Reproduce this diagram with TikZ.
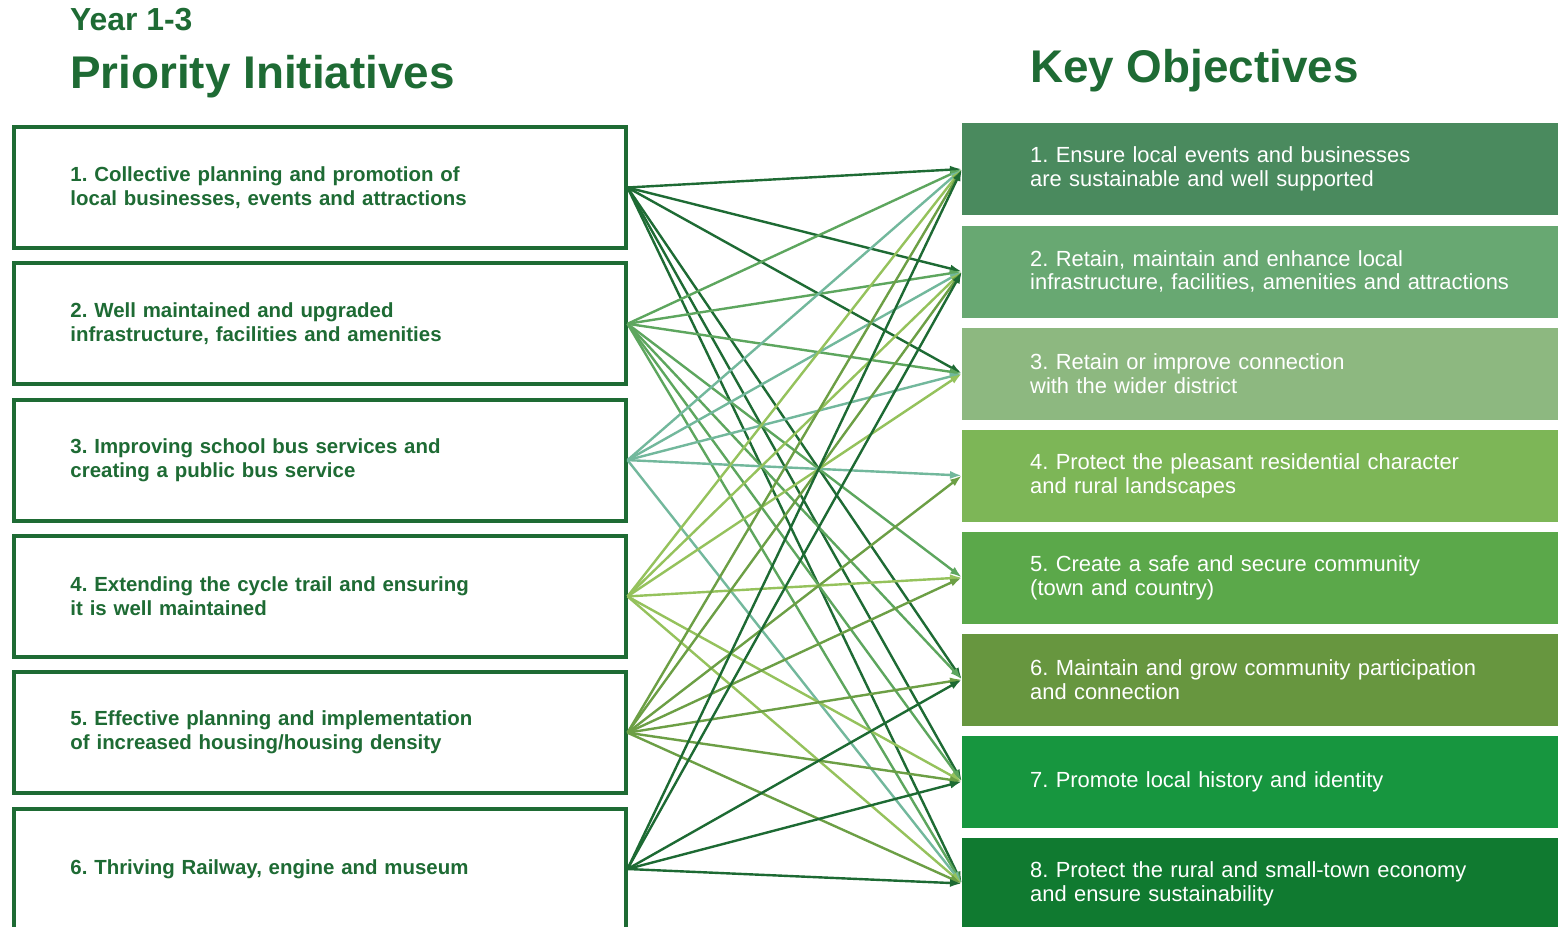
\documentclass[tikz,border=0pt]{standalone}
\usepackage{fontspec}
\setmainfont{Liberation Sans}
\frenchspacing
\usetikzlibrary{arrows.meta}
\definecolor{titlegreen}{HTML}{1E6B34}
\definecolor{objA}{HTML}{4A8A5E}
\definecolor{objB}{HTML}{68A872}
\definecolor{objC}{HTML}{8DB880}
\definecolor{objD}{HTML}{7DB657}
\definecolor{objE}{HTML}{5BA84A}
\definecolor{objF}{HTML}{67963F}
\definecolor{objG}{HTML}{17963F}
\definecolor{objH}{HTML}{107A30}
\definecolor{linkA}{HTML}{1E6B34}
\definecolor{linkB}{HTML}{5DA65E}
\definecolor{linkC}{HTML}{72B89C}
\definecolor{linkD}{HTML}{95C25C}
\definecolor{linkE}{HTML}{6C9F45}
\definecolor{linkF}{HTML}{1D6A33}
\tikzset{
  initbox/.style={draw=titlegreen, line width=4bp, minimum height=121bp,
    text width=499bp, inner xsep=56bp, align=left, text=titlegreen,
    font=\fontsize{20.5}{24}\selectfont\bfseries},
  objbox/.style={anchor=west, minimum height=92bp, text width=530bp,
    inner xsep=68bp, align=left, text=white,
    font=\fontsize{22}{24}\selectfont},
  heading/.style={anchor=base west, inner sep=0pt, text=titlegreen,
    font=\fontsize{46}{50}\selectfont\bfseries},
  link/.style={line width=2.4bp, -{Latex[length=12bp,width=8bp]}}
}
\begin{document}
\begin{tikzpicture}[x=1bp,y=-1bp]
  \clip (0,0) rectangle (1558,926);
  \fill[white] (0,0) rectangle (1558,926);
  % headings
  \node[heading, font=\fontsize{32}{34}\selectfont\bfseries] (year) at (70,30) {Year 1-3};
  \node[heading] (prio) at (70,88) {Priority Initiatives};
  \node[heading] (keyobj) at (1030,82) {Key Objectives};
  % initiatives
  \node[initbox] (i1) at (320,187.5) {1. Collective planning and promotion of\\local businesses, events and attractions};
  \node[initbox] (i2) at (320,323.8) {2. Well maintained and upgraded\\infrastructure, facilities and amenities};
  \node[initbox] (i3) at (320,460.1) {3. Improving school bus services and\\creating a public bus service};
  \node[initbox] (i4) at (320,596.4) {4. Extending the cycle trail and ensuring\\it is well maintained};
  \node[initbox] (i5) at (320,732.7) {5. Effective planning and implementation\\of increased housing/housing density};
  \node[initbox] (i6) at (320,869) {6. Thriving Railway, engine and museum};
  % objectives
  \node[objbox, fill=objA] (o1) at (962,169) {1. Ensure local events and businesses\\are sustainable and well supported};
  \node[objbox, fill=objB] (o2) at (962,271.5) {2. Retain, maintain and enhance local\\infrastructure, facilities, amenities and attractions};
  \node[objbox, fill=objC] (o3) at (962,373.5) {3. Retain or improve connection\\with the wider district};
  \node[objbox, fill=objD] (o4) at (962,475.5) {4. Protect the pleasant residential character\\and rural landscapes};
  \node[objbox, fill=objE] (o5) at (962,577.5) {5. Create a safe and secure community\\(town and country)};
  \node[objbox, fill=objF] (o6) at (962,679.5) {6. Maintain and grow community participation\\and connection};
  \node[objbox, fill=objG] (o7) at (962,781.5) {7. Promote local history and identity};
  \node[objbox, fill=objH] (o8) at (962,883.5) {8. Protect the rural and small-town economy\\and ensure sustainability};
  % links
  \begin{scope}[link, linkA]
    \draw (i1.east) -- (o1.west);
    \draw (i1.east) -- (o2.west);
    \draw (i1.east) -- (o3.west);
    \draw (i1.east) -- (o6.west);
    \draw (i1.east) -- (o7.west);
    \draw (i1.east) -- (o8.west);
  \end{scope}
  \begin{scope}[link, linkB]
    \draw (i2.east) -- (o1.west);
    \draw (i2.east) -- (o2.west);
    \draw (i2.east) -- (o3.west);
    \draw (i2.east) -- (o5.west);
    \draw (i2.east) -- (o6.west);
    \draw (i2.east) -- (o7.west);
    \draw (i2.east) -- (o8.west);
  \end{scope}
  \begin{scope}[link, linkC]
    \draw (i3.east) -- (o1.west);
    \draw (i3.east) -- (o2.west);
    \draw (i3.east) -- (o3.west);
    \draw (i3.east) -- (o4.west);
    \draw (i3.east) -- (o8.west);
  \end{scope}
  \begin{scope}[link, linkD]
    \draw (i4.east) -- (o1.west);
    \draw (i4.east) -- (o2.west);
    \draw (i4.east) -- (o3.west);
    \draw (i4.east) -- (o5.west);
    \draw (i4.east) -- (o7.west);
    \draw (i4.east) -- (o8.west);
  \end{scope}
  \begin{scope}[link, linkE]
    \draw (i5.east) -- (o1.west);
    \draw (i5.east) -- (o2.west);
    \draw (i5.east) -- (o4.west);
    \draw (i5.east) -- (o5.west);
    \draw (i5.east) -- (o6.west);
    \draw (i5.east) -- (o7.west);
    \draw (i5.east) -- (o8.west);
  \end{scope}
  \begin{scope}[link, linkF]
    \draw (i6.east) -- (o1.west);
    \draw (i6.east) -- (o2.west);
    \draw (i6.east) -- (o6.west);
    \draw (i6.east) -- (o7.west);
    \draw (i6.east) -- (o8.west);
  \end{scope}
\end{tikzpicture}
\end{document}
